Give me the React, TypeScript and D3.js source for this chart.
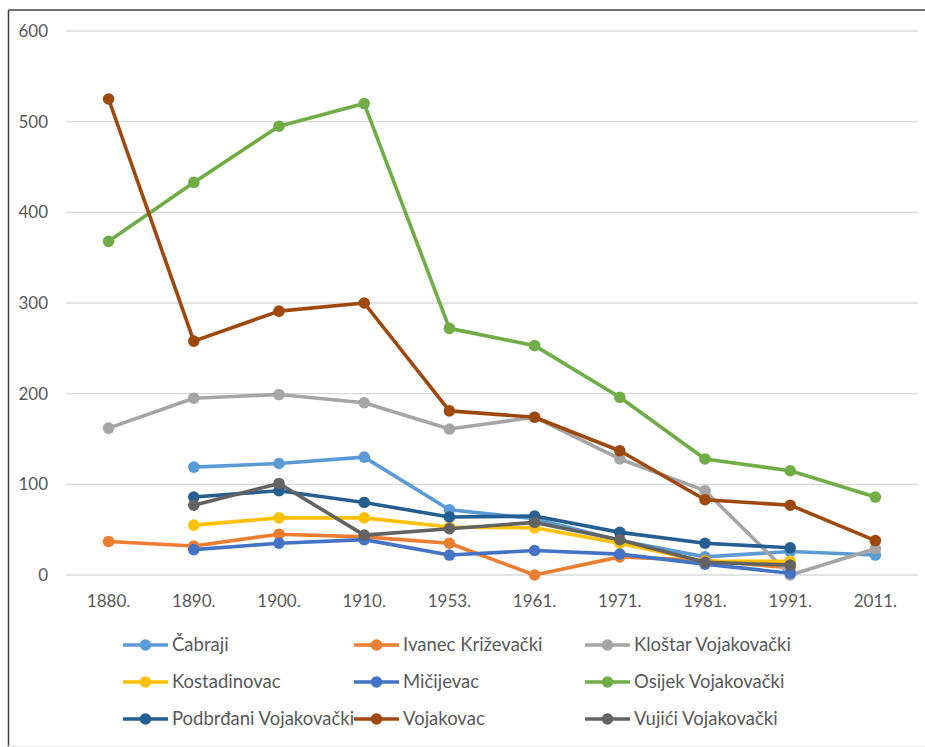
import * as d3 from "d3";

const years = ["1880.", "1890.", "1900.", "1910.", "1953.", "1961.", "1971.", "1981.", "1991.", "2011."];
const yTicks = [0, 100, 200, 300, 400, 500, 600];

// null = no data for that census
const cabraji = [null, 119, 123, 130, 72, 62, 38, 20, 26, 22];
const ivanec = [37, 32, 45, 42, 35, 0, 20, 16, 8, null];
const klostar = [162, 195, 199, 190, 161, 174, 128, 93, 0, 29];
const kostadinovac = [null, 55, 63, 63, 53, 52, 35, 15, 15, null];
const micijevac = [null, 28, 35, 39, 22, 27, 23, 12, 2, null];
const osijek = [368, 433, 495, 520, 272, 253, 196, 128, 115, 86];
const podbrdani = [null, 86, 93, 80, 64, 65, 47, 35, 30, null];
const vojakovac = [525, 258, 291, 300, 181, 174, 137, 83, 77, 38];
const vujici = [null, 77, 101, 44, 51, 58, 39, 14, 11, null];

const series = [
  { name: "Čabraji", values: cabraji, color: "#5b9bd5" },
  { name: "Ivanec Križevački", values: ivanec, color: "#ed7d31" },
  { name: "Kloštar Vojakovački", values: klostar, color: "#a5a5a5" },
  { name: "Kostadinovac", values: kostadinovac, color: "#ffc000" },
  { name: "Mičijevac", values: micijevac, color: "#4472c4" },
  { name: "Osijek Vojakovački", values: osijek, color: "#70ad47" },
  { name: "Podbrđani Vojakovački", values: podbrdani, color: "#255e91" },
  { name: "Vojakovac", values: vojakovac, color: "#9e480e" },
  { name: "Vujići Vojakovački", values: vujici, color: "#636363" },
];

export default function App() {
  const width = 925;
  const height = 747;
  const font = "Lato, 'Open Sans', sans-serif";

  const x = d3.scaleBand().domain(years).range([66, 918]);
  const y = d3.scaleLinear().domain([0, 600]).range([575, 31]);
  const cx = (i: number) => (x(years[i]) as number) + x.bandwidth() / 2;

  const line = d3
    .line<number | null>()
    .defined((d) => d !== null)
    .x((d, i) => cx(i))
    .y((d) => y(d as number));

  return (
    <div style={{ position: "absolute", left: 0, top: 0 }}>
      <svg width={width} height={height} style={{ display: "block", background: "#fff" }}>
        <line x1={8.5} x2={925} y1={10} y2={10} stroke="#404040" strokeWidth={1.5} />
        <line x1={8.5} x2={8.5} y1={10} y2={747} stroke="#404040" strokeWidth={1.5} />
        <line x1={8} x2={925} y1={746} y2={746} stroke="#e8e8e8" strokeWidth={1} />

        {yTicks.map((t) => (
          <g key={t}>
            <line x1={66} x2={918} y1={y(t)} y2={y(t)} stroke="#d9d9d9" strokeWidth={1.3} />
            <text x={48} y={y(t)} dy="0.35em" textAnchor="end" fontFamily={font} fontSize={17} fill="#595959">
              {t}
            </text>
          </g>
        ))}

        {years.map((yr, i) => (
          <text key={yr} x={cx(i)} y={607} textAnchor="middle" fontFamily={font} fontSize={17} fill="#595959">
            {yr}
          </text>
        ))}

        {series.map((s) => (
          <g key={s.name}>
            <path d={line(s.values) || ""} fill="none" stroke={s.color} strokeWidth={3.6} strokeLinejoin="round" />
            {s.values.map((v, i) =>
              v === null ? null : <circle key={i} cx={cx(i)} cy={y(v)} r={5.8} fill={s.color} />
            )}
          </g>
        ))}

        {series.map((s, i) => {
          const col = i % 3;
          const row = Math.floor(i / 3);
          const lx = 123 + col * 231;
          const ly = 645 + row * 37;
          return (
            <g key={s.name}>
              <line x1={lx} x2={lx + 45} y1={ly} y2={ly} stroke={s.color} strokeWidth={3.6} />
              <circle cx={lx + 22.5} cy={ly} r={5.8} fill={s.color} />
              <text x={lx + 49} y={ly} dy="0.35em" fontFamily={font} fontSize={18.5} fill="#595959">
                {s.name}
              </text>
            </g>
          );
        })}
      </svg>
    </div>
  );
}
